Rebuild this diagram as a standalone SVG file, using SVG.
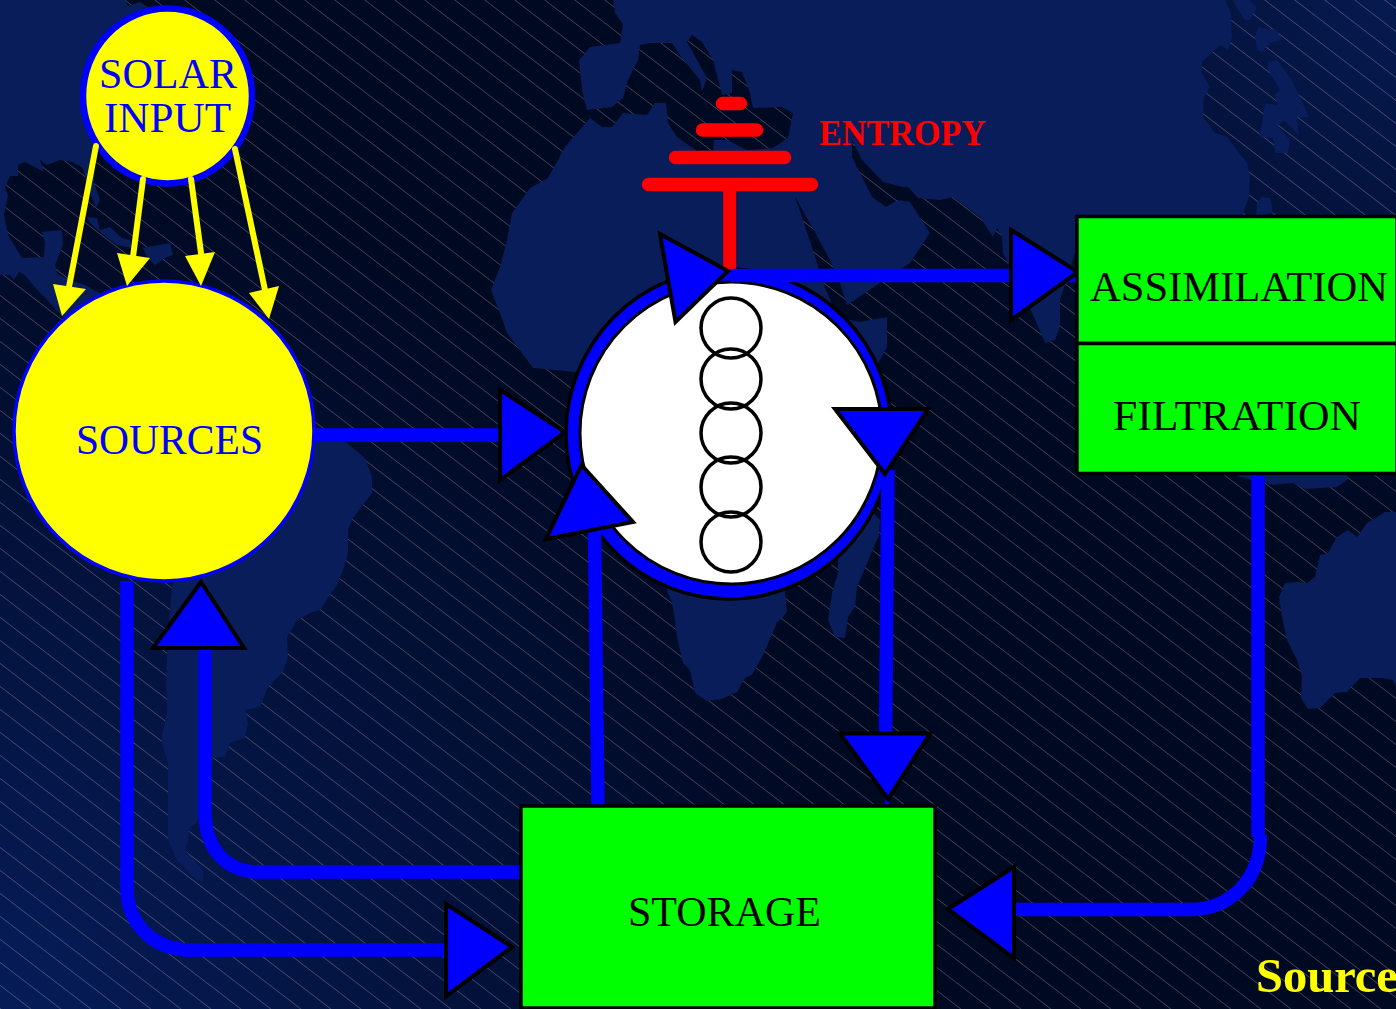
<svg xmlns="http://www.w3.org/2000/svg" width="1396" height="1009" viewBox="0 0 1396 1009">
<style>
.land{fill:#081d59;stroke:none}
.pipe{fill:none;stroke:#0000ff;stroke-width:13.5}
.head{fill:#0000ff;stroke:#000;stroke-width:4;stroke-linejoin:miter;stroke-miterlimit:10}
.ray{fill:none;stroke:#ffff00;stroke-width:6;stroke-linecap:round}
.rayhead{fill:#ffff00;stroke:none}
.red{stroke:#ff0000;stroke-width:13.5;stroke-linecap:round;fill:none}
.box{fill:#00ff00;stroke:#000;stroke-width:3.5}
.ring{fill:none;stroke:#000;stroke-width:3.5}
.t{font-family:"Liberation Serif","Times New Roman",serif;font-size:42px}
</style>
<defs>
<radialGradient id="glowA" gradientUnits="userSpaceOnUse" cx="0" cy="1009" r="850"><stop offset="0" stop-color="#061c58"/><stop offset="1" stop-color="#061c58" stop-opacity="0"/></radialGradient>
<radialGradient id="glowB" gradientUnits="userSpaceOnUse" cx="1396" cy="0" r="520"><stop offset="0" stop-color="#061a50"/><stop offset="1" stop-color="#061a50" stop-opacity="0"/></radialGradient>
<pattern id="hatch" patternUnits="userSpaceOnUse" width="30" height="23" patternTransform="translate(1060,487)"><path d="M-30 -23L60 46" stroke="#ffffff" stroke-opacity=".3" stroke-width=".8" fill="none"/></pattern>
</defs>
<g id="background">
<rect width="1396" height="1009" fill="#000922"/>
<rect width="1396" height="1009" fill="url(#glowA)"/>
<rect width="1396" height="1009" fill="url(#glowB)"/>
<rect width="1396" height="1009" fill="url(#hatch)"/>
<polygon class="land" points="0,0 125,0 128,6 140,2 168,20 168,120 96,147 94,182 100,200 96,208 88,188 83,168 72,162 60,160 47,165 40,160 44,172 25,162 18,165 18,176 10,176 5,187 8,195 4,215 8,235 22,258 44,257 45,243 42,232 62,230 63,245 55,265 57,274 70,280 85,285 130,310 130,440 62,316 33,285 25,275 19,272 14,280 10,275 0,275"/>
<polygon class="land" points="87,217 97,218 100,230 110,227 122,238 130,240 132,248 117,245 100,232 90,223"/>
<polygon class="land" points="143,248 170,243 173,255 165,258 155,265 147,257"/>
<polygon class="land" points="300,420 347,443 365,458 372,477 372,493 353,518 348,530 348,553 343,570 337,585 320,610 310,613 297,620 287,638 288,657 283,672 268,687 260,707 245,710 248,723 245,738 230,743 225,757 213,758 205,800 197,823 190,827 188,840 185,850 203,870 203,882 193,877 177,860 168,840 168,763 161,740 167,713 166,678 168,637 172,587 200,500"/>
<polygon class="land" points="507,240 512,213 530,188 548,178 565,147 590,118 602,127 612,127 623,113 647,115 655,103 666,103 668,123 677,137 697,151 713,150 714,140 727,140 747,150 773,148 788,138 793,113 782,107 753,108 750,93 742,72 732,70 732,93 722,95 720,87 713,60 702,42 692,35 687,42 707,78 702,92 700,80 682,58 672,43 650,43 640,45 638,60 628,80 623,98 612,107 587,110 582,90 579,60 590,47 620,43 623,24 615,13 613,0 1225,0 1231,13 1232,37 1228,50 1220,45 1202,62 1202,73 1210,87 1204,98 1203,117 1215,133 1227,137 1247,163 1250,177 1249,197 1243,213 1243,260 1075,253 1060,300 1060,327 1055,340 1045,343 1030,308 1008,263 1003,253 1002,237 997,228 993,237 980,217 953,197 940,200 918,198 908,187 903,187 883,182 862,160 852,140 852,157 872,197 886,207 898,200 910,202 930,233 910,263 847,305 840,283 830,260 812,227 793,193 788,177 802,217 825,287 837,317 860,322 887,317 887,347 880,360 800,500 785,592 787,612 777,623 763,655 752,675 745,678 737,692 722,699 707,701 695,693 690,670 683,663 677,637 673,607 667,590 600,450 577,372 533,368 507,333 500,313 491,290 500,267"/>
<polygon class="land" points="838,560 860,500 877,517 880,520 879,535 857,587 855,607 848,617 845,638 835,637 828,620 832,593 838,573"/>
<polygon class="land" points="1237,470 1350,470 1348,476 1347,480 1337,487 1320,488 1305,489 1293,483 1273,485 1252,480 1237,476"/>
<polygon class="land" points="1257,203 1262,197 1270,198 1273,213 1256,216"/>
<polygon class="land" points="1233,0 1250,0 1257,8 1250,20 1245,20 1238,10"/>
<polygon class="land" points="1255,37 1258,27 1277,30 1282,40 1270,43 1262,52 1257,50"/>
<polygon class="land" points="1268,62 1277,60 1292,80 1309,117 1297,117 1299,135 1285,121 1277,125 1290,140 1288,153 1275,153 1273,138 1260,137 1265,103 1277,105 1275,95 1280,90 1268,70"/>
<polygon class="land" points="1279,597 1285,583 1297,582 1307,583 1315,577 1320,555 1328,553 1337,537 1348,530 1357,537 1367,523 1385,512 1396,512 1396,687 1393,680 1382,678 1360,678 1347,692 1335,693 1320,708 1308,709 1301,698 1302,677 1297,660 1287,640 1282,617"/>
</g>
<g id="solar-input">
<ellipse cx="167.5" cy="96" rx="84.5" ry="87.5" fill="#ffff00" stroke="#0000ff" stroke-width="6.5"/>
<text class="t" x="99" y="88" fill="#0000ff" textLength="138" lengthAdjust="spacingAndGlyphs">SOLAR</text>
<text class="t" x="104" y="132" fill="#0000ff" textLength="127" lengthAdjust="spacingAndGlyphs">INPUT</text>
</g>
<g id="sources">
<circle cx="164" cy="431" r="150" fill="#ffff00" stroke="#0000ff" stroke-width="3.5"/>
<text class="t" x="76" y="454" fill="#0000ff" textLength="187" lengthAdjust="spacingAndGlyphs">SOURCES</text>
</g>
<g id="consumers">
<ellipse cx="729" cy="434" rx="163" ry="165" fill="#0000ff" stroke="#000" stroke-width="3.5"/>
<circle cx="731" cy="433" r="151" fill="#ffffff" stroke="#000" stroke-width="3"/>
<circle class="ring" cx="731" cy="328" r="30"/>
<circle class="ring" cx="731" cy="379" r="30"/>
<circle class="ring" cx="731" cy="433" r="30"/>
<circle class="ring" cx="731" cy="487" r="30"/>
<circle class="ring" cx="731" cy="542" r="30"/>
</g>
<g id="entropy">
<path class="red" d="M722.5 103.5H740.5M702.5 130H756.5M675.5 157.5H784.5M648.5 184.5H811.5" />
<path d="M729.7 184V270" stroke="#ff0000" stroke-width="13" fill="none"/>
<text x="819" y="145" font-family="'Liberation Serif','Times New Roman',serif" font-size="35" font-weight="bold" fill="#ff0000" textLength="167" lengthAdjust="spacingAndGlyphs">ENTROPY</text>
</g>
<g id="connectors">
<path class="pipe" d="M315 435H502"/>
<path class="pipe" d="M730 275.5H1076"/>
<path class="pipe" d="M127 581V888C127 925 155 950 190 950H449"/>
<path class="pipe" d="M521 872H258C228 872 205 850 205 812V648"/>
<path class="pipe" d="M598 806L594.5 530"/>
<path class="pipe" d="M888 470L885.5 736"/>
<path d="M887 797V806" stroke="#0000ff" stroke-width="4" fill="none"/>
<path class="pipe" d="M1258 474V837"/>
<path class="pipe" d="M1260.5 835C1260.5 880 1230 909.5 1190 909.5H1012"/>
<polygon class="head" points="500,390 565,432 500,480"/>
<polygon class="head" points="660,234 728,271 675.5,322"/>
<polygon class="head" points="1011,230 1078,272 1011,320"/>
<polygon class="head" points="835,409 928,409 885,474"/>
<polygon class="head" points="840,733.5 930,733.5 888,799"/>
<polygon class="head" points="581.5,465 633,522 546,539"/>
<polygon class="head" points="201,582 244,648 153,648"/>
<polygon class="head" points="446,904 512,947 446,996"/>
<polygon class="head" points="1014,867 948,909 1014,958"/>
<path class="ray" d="M96 146L69 287M143 179L133 257M191 179L201 253M235 149L265 290"/>
<polygon class="rayhead" points="53,284 86,289 62,316"/>
<polygon class="rayhead" points="117,253 150,258 127,286"/>
<polygon class="rayhead" points="185,256 215,252 201,286"/>
<polygon class="rayhead" points="249,293 279,286 269,319"/>
</g>
<g id="assimilation">
<rect class="box" x="1077" y="216.5" width="320" height="127"/>
<text class="t" x="1090" y="301" fill="#000" textLength="298" lengthAdjust="spacingAndGlyphs">ASSIMILATION</text>
</g>
<g id="filtration">
<rect class="box" x="1077" y="343.5" width="320" height="130"/>
<text class="t" x="1113" y="430" fill="#000" textLength="248" lengthAdjust="spacingAndGlyphs">FILTRATION</text>
</g>
<g id="storage">
<rect class="box" x="521" y="806" width="414" height="202"/>
<text class="t" x="628" y="926" fill="#000" textLength="193" lengthAdjust="spacingAndGlyphs">STORAGE</text>
</g>
<text x="1256" y="992" font-family="'Liberation Serif','Times New Roman',serif" font-size="48.5" font-weight="bold" fill="#ffff00">Source</text>
</svg>
